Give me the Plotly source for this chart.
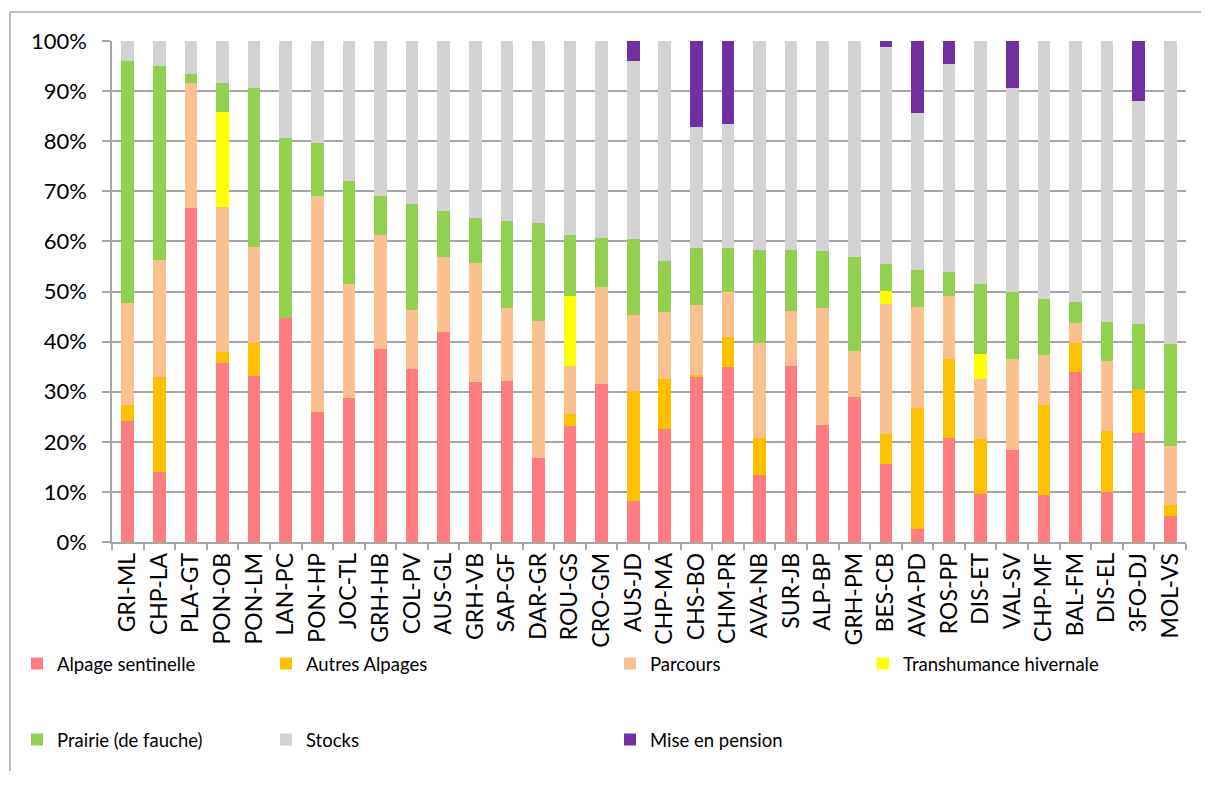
import plotly.graph_objects as go

categories = ["GRI-ML", "CHP-LA", "PLA-GT", "PON-OB", "PON-LM", "LAN-PC", "PON-HP", "JOC-TL",
              "GRH-HB", "COL-PV", "AUS-GL", "GRH-VB", "SAP-GF", "DAR-GR", "ROU-GS", "CRO-GM",
              "AUS-JD", "CHP-MA", "CHS-BO", "CHM-PR", "AVA-NB", "SUR-JB", "ALP-BP", "GRH-PM",
              "BES-CB", "AVA-PD", "ROS-PP", "DIS-ET", "VAL-SV", "CHP-MF", "BAL-FM", "DIS-EL",
              "3FO-DJ", "MOL-VS"]

alpage_sentinelle = [24.2, 14.0, 66.7, 35.8, 33.2, 44.8, 25.9, 28.8, 38.6, 34.5, 41.9, 32.0, 32.1, 16.7,
                     23.2, 31.5, 8.2, 22.5, 32.9, 35.0, 13.3, 35.1, 23.4, 29.0, 15.6, 2.5, 20.8, 9.6,
                     18.4, 9.4, 33.9, 10.0, 21.8, 5.2]
autres_alpages = [3.2, 18.9, 0, 2.2, 6.5, 0, 0, 0, 0, 0, 0, 0, 0, 0,
                  2.4, 0, 21.9, 10.0, 0.4, 5.9, 7.5, 0, 0, 0, 6.0, 24.3, 15.7, 11.0,
                  0, 18.0, 5.8, 12.2, 8.7, 2.2]
parcours = [20.4, 23.3, 25.0, 28.9, 19.1, 0, 43.2, 22.6, 22.7, 11.8, 15.0, 23.6, 14.6, 27.4,
            9.5, 19.4, 15.2, 13.4, 14.0, 9.0, 18.9, 11.0, 23.4, 9.1, 26.0, 20.1, 12.6, 11.9,
            18.2, 9.9, 4.1, 13.9, 0, 11.8]
transhumance = [0, 0, 0, 18.9, 0, 0, 0, 0, 0, 0, 0, 0, 0, 0,
                14.0, 0, 0, 0, 0, 0, 0, 0, 0, 0, 2.5, 0, 0, 5.0,
                0, 0, 0, 0, 0, 0]
prairie = [48.2, 38.8, 1.8, 5.9, 31.8, 35.8, 10.5, 20.7, 7.8, 21.2, 9.2, 9.1, 17.4, 19.6,
           12.2, 9.8, 15.2, 10.2, 11.4, 8.8, 18.6, 12.2, 11.3, 18.8, 5.4, 7.4, 4.8, 13.9,
           13.4, 11.2, 4.1, 7.8, 13.1, 20.3]
stocks = [4.0, 5.0, 6.5, 8.3, 9.4, 19.4, 20.4, 27.9, 30.9, 32.5, 33.9, 35.3, 35.9, 36.3,
          38.7, 39.3, 35.6, 43.9, 24.2, 24.7, 41.7, 41.7, 41.9, 43.1, 43.4, 31.3, 41.6, 48.6,
          40.7, 51.5, 52.1, 56.1, 44.5, 60.5]
mise_en_pension = [0, 0, 0, 0, 0, 0, 0, 0, 0, 0, 0, 0, 0, 0,
                   0, 0, 3.9, 0, 17.1, 16.6, 0, 0, 0, 0, 1.1, 14.4, 4.5, 0,
                   9.3, 0, 0, 0, 11.9, 0]

y_ticks = [0, 10, 20, 30, 40, 50, 60, 70, 80, 90, 100]
y_tick_labels = ["0%", "10%", "20%", "30%", "40%", "50%", "60%", "70%", "80%", "90%", "100%"]

series = [
    ("Alpage sentinelle", alpage_sentinelle, "#FF7C80"),
    ("Autres Alpages", autres_alpages, "#FFC000"),
    ("Parcours", parcours, "#FAC090"),
    ("Transhumance hivernale", transhumance, "#FFFF00"),
    ("Prairie (de fauche)", prairie, "#92D050"),
    ("Stocks", stocks, "#D3D3D3"),
    ("Mise en pension", mise_en_pension, "#7030A0"),
]

# page body has an 8px margin on every side; keep the figure well inside the window
OFF = 8
W, H = 1209 - 2 * OFF, 787 - 2 * OFF - 8
L, T = 112 - OFF, 41 - OFF
R = W - (1186 - OFF)
B = H - (542 - OFF)
pw, ph = W - L - R, H - T - B

def px_x(x):
    return (x - OFF - L) / pw

def px_y(y):
    return (H - B - (y - OFF)) / ph

# legend text start positions (page px) and row centres
leg_pos = [(57, 664), (306, 664), (650, 664), (903, 664),
           (57, 740), (306, 740), (650, 740)]

fig = go.Figure()
legend_layouts = {}
for i, (name, vals, col) in enumerate(series):
    key = "legend" if i == 0 else f"legend{i+1}"
    fig.add_trace(go.Bar(x=categories, y=vals, name=name, marker_color=col,
                         marker_line_width=0, legend=key))
    tx, ty = leg_pos[i]
    legend_layouts[key] = dict(
        x=px_x(tx - 40), y=px_y(ty), xanchor="left", yanchor="middle",
        xref="paper", yref="paper", bgcolor="rgba(0,0,0,0)", borderwidth=0,
        font=dict(family="Lato", size=18.5, color="#000000"),
    )

fig.update_layout(
    width=W, height=H,
    margin=dict(l=L, r=R, t=T, b=B, autoexpand=False),
    barmode="stack", bargap=0.6,
    plot_bgcolor="white", paper_bgcolor="white",
    font=dict(family="Lato", size=21, color="#000000"),
    showlegend=True,
    **legend_layouts,
)

fig.update_yaxes(
    range=[0, 100], tickmode="array", tickvals=y_ticks, ticktext=y_tick_labels,
    showgrid=True, gridcolor="#A6A6A6", gridwidth=1.5,
    showline=True, linecolor="#A6A6A6", linewidth=1.5,
    ticks="outside", ticklen=8, tickcolor="#A6A6A6", tickwidth=1.5,
    zeroline=False, ticklabelstandoff=11,
    tickfont=dict(family="Lato", size=22, color="#000000"),
)
fig.update_xaxes(
    type="category", tickangle=-90,
    showline=True, linecolor="#A6A6A6", linewidth=1.5,
    ticks="outside", tickson="boundaries", ticklen=6, tickcolor="#A6A6A6", tickwidth=1.5,
    showgrid=False,
    tickfont=dict(family="Lato", size=23, color="#000000"),
)

# chart-area frame: only top and left edges are visible in the reference
frame = dict(color="#A6A6A6", width=1.5)
right_edge = OFF + W
bottom_edge = OFF + H
fig.add_shape(type="line", xref="paper", yref="paper",
              x0=px_x(10), x1=px_x(right_edge), y0=px_y(12), y1=px_y(12), line=frame)
fig.add_shape(type="line", xref="paper", yref="paper",
              x0=px_x(10), x1=px_x(10), y0=px_y(12), y1=px_y(bottom_edge), line=frame)

fig.write_html("out.html")
